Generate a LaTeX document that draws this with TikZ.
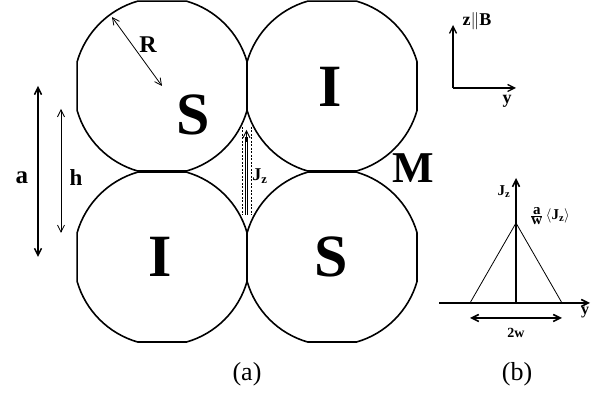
\documentclass[tikz,border=0pt]{standalone}
\usepackage{fontspec}
\setmainfont{Liberation Serif}
\usetikzlibrary{arrows.meta}
\newcommand\trunccirc[2]{%
  \draw[circ] (#1,#2) ++(16.2:88.5) arc[start angle=16.2,end angle=73.8,radius=88.5]
    -- ++(-49.2,0) arc[start angle=106.2,end angle=163.8,radius=88.5]
    -- ++(0,-49.2) arc[start angle=196.2,end angle=253.8,radius=88.5]
    -- ++(49.2,0) arc[start angle=286.2,end angle=343.8,radius=88.5] -- cycle;}
\tikzset{
  circ/.style={line width=1.6pt},
  lbl/.style={inner sep=0pt,font=\bfseries\fontsize{#1}{#1}\selectfont},
  captxt/.style={inner sep=0pt,font=\fontsize{26}{26}\selectfont},
  twotips/.style={{Straight Barb[length=7pt,width=7pt]}-{Straight Barb[length=7pt,width=7pt]}},
  onetip/.style={-{Straight Barb[length=7pt,width=7pt]}},
  dashline/.style={line width=0.6pt,dash pattern=on 2pt off 1.5pt},
}
\begin{document}
\begin{tikzpicture}[x=1pt,y=-1pt]
\useasboundingbox (0,0) rectangle (606,395);
% truncated circles
\trunccirc{162}{86}
\trunccirc{332}{86}
\trunccirc{162}{257}
\trunccirc{332}{257}
% big letters
\node[lbl=60] (S1) at (193,115) {S};
\node[lbl=60] (I1) at (330,87) {I};
\node[lbl=60] (I2) at (160,257) {I};
\node[lbl=60] (S2) at (331,257) {S};
\node[lbl=44] (M) at (413,168) {M};
% R arrow
\coordinate (Rs) at (112,17);
\coordinate (Rc) at (162,86);
\draw[twotips,line width=0.8pt] (Rs) -- (Rc);
\node[lbl=24] (R) at (148,45) {R};
% a and h arrows
\coordinate (at) at (38,86);
\coordinate (ab) at (38,257);
\draw[twotips,line width=1.5pt] (at) -- (ab);
\node[lbl=25] (alab) at (22,178) {a};
\coordinate (ht) at (61,109);
\coordinate (hb) at (61,233);
\draw[twotips,line width=0.8pt] (ht) -- (hb);
\node[lbl=23] (hlab) at (76,178) {h};
% Jz current arrow
\coordinate (jb) at (246.5,215);
\coordinate (jt) at (246.5,130);
\draw[dashline] (242.5,127) -- (242.5,215);
\draw[dashline] (251,127) -- (251,215);
\draw[line width=0.8pt] (245.2,215) -- (245.2,137);
\draw[line width=0.8pt] (247.8,215) -- (247.8,137);
\draw[onetip,line width=0.8pt] (246.5,142) -- (jt);
\node[lbl=18] (Jz1) at (260,176) {J\textsubscript{z}};
% top-right axes
\coordinate (o1) at (453,88);
\coordinate (zt) at (453,25);
\coordinate (yt) at (516,88);
\draw[onetip,line width=1.3pt] (o1) -- (zt);
\draw[onetip,line width=1.3pt] (o1) -- (yt);
\node[lbl=18] (zB) at (477,21) {z$\Vert$B};
\node[lbl=18] (y1) at (507,101) {y};
% panel (b)
\coordinate (hx0) at (439,303);
\coordinate (hx1) at (590,303);
\coordinate (o2) at (516,303);
\coordinate (vt) at (516,178);
\coordinate (apex) at (516,223);
\coordinate (bl) at (470,303);
\coordinate (br) at (562,303);
\draw[onetip,line width=1.6pt] (hx0) -- (hx1);
\draw[onetip,line width=1.6pt] (o2) -- (vt);
\draw[line width=0.8pt] (bl) -- (apex) -- (br);
\coordinate (wl) at (470,318);
\coordinate (wr) at (562,318);
\draw[twotips,line width=1.6pt] (wl) -- (wr);
\node[lbl=15] (Jz2) at (504,192) {J\textsubscript{z}};
\node[lbl=15] (frac) at (550,216) {$\frac{\textbf{a}}{\textbf{w}}$\,$\langle$J\textsubscript{z}$\rangle$};
\node[lbl=16] (y2) at (585,313) {y};
\node[lbl=14] (tw) at (516,333) {2w};
% captions
\node[captxt] (capa) at (247,374) {(a)};
\node[captxt] (capb) at (517,374) {(b)};
\end{tikzpicture}
\end{document}
